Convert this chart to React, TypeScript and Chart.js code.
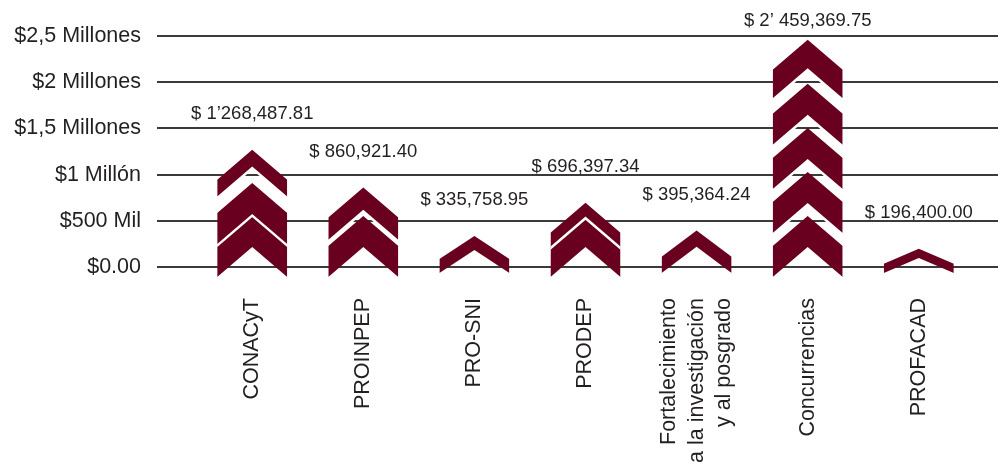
import { useEffect, useRef } from "react";
import { Chart, registerables } from "chart.js";

Chart.register(...registerables);

// ---- data ----
const categories: (string | string[])[] = [
  "CONACyT",
  "PROINPEP",
  "PRO-SNI",
  "PRODEP",
  ["Fortalecimiento", "a la investigación", "y al posgrado"],
  "Concurrencias",
  "PROFACAD",
];
const amounts = [1268487.81, 860921.4, 335758.95, 696397.34, 395364.24, 2459369.75, 196400.0];
const amountLabels = [
  "$ 1’268,487.81",
  "$ 860,921.40",
  "$ 335,758.95",
  "$ 696,397.34",
  "$ 395,364.24",
  "$ 2’ 459,369.75",
  "$ 196,400.00",
];
const yTickValues = [0, 500000, 1000000, 1500000, 2000000, 2500000];
const yTickLabels = ["$0.00", "$500 Mil", "$1 Millón", "$1,5 Millones", "$2 Millones", "$2,5 Millones"];
const CHEVRON_UNIT = 500000;

// ---- styles ----
const MAROON = "#6a0020";
const TEXT = "#231f20";
const FONT = '"Liberation Sans", Arial, Helvetica, sans-serif';
const CAT_FONT_SIZE = 21.5;
const CAT_LINE_HEIGHT = 1.28;

const chevronPlugin = {
  id: "chevrons",
  afterDatasetsDraw(chart: any) {
    const ctx = chart.ctx as CanvasRenderingContext2D;
    const meta = chart.getDatasetMeta(0);
    meta.data.forEach((el: any, i: number) => {
      const { x, y, base, width } = el.getProps(["x", "y", "base", "width"], true);
      const v = amounts[i];
      const n = Math.max(1, Math.ceil(v / CHEVRON_UNIT));
      const frac = v / CHEVRON_UNIT - (n - 1);
      const half = width / 2;
      const list: { apex: number; s: number; h: number }[] = [];
      if (n === 1) {
        const bottom = base + 7;
        const H = bottom - y;
        const s = Math.min(30, H * 0.62);
        list.push({ apex: y, s, h: H - s });
      } else {
        const bottom = base + 11;
        const S = 30;
        const HH = 31;
        const a0 = bottom - S - HH;
        const pitch = (a0 - y) / (n - 1);
        for (let k = 0; k < n; k++) {
          const apex = a0 - k * pitch;
          const h = k === n - 1 ? HH * Math.max(0.45, Math.min(1, frac)) : HH;
          list.push({ apex, s: S, h });
        }
      }
      const L = x - half;
      const R = x + half;
      ctx.save();
      ctx.beginPath();
      ctx.rect(L, 0, width, chart.height);
      ctx.clip();
      list.forEach((c, k) => {
        if (k > 0) {
          ctx.beginPath();
          ctx.moveTo(L - 4, c.apex + c.s + c.h + 4 * (c.s / half));
          ctx.lineTo(x, c.apex + c.h);
          ctx.lineTo(R + 4, c.apex + c.s + c.h + 4 * (c.s / half));
          ctx.strokeStyle = "#ffffff";
          ctx.lineWidth = 5;
          ctx.lineJoin = "miter";
          ctx.stroke();
        }
        ctx.beginPath();
        ctx.moveTo(x, c.apex);
        ctx.lineTo(R, c.apex + c.s);
        ctx.lineTo(R, c.apex + c.s + c.h);
        ctx.lineTo(x, c.apex + c.h);
        ctx.lineTo(L, c.apex + c.s + c.h);
        ctx.lineTo(L, c.apex + c.s);
        ctx.closePath();
        ctx.fillStyle = MAROON;
        ctx.fill();
      });
      ctx.restore();

      ctx.save();
      ctx.font = `18.5px ${FONT}`;
      ctx.fillStyle = TEXT;
      ctx.textAlign = "center";
      ctx.textBaseline = "middle";
      ctx.fillText(amountLabels[i], x, Math.max(21, y - 36));
      ctx.restore();
    });
  },
};

export default function App() {
  const ref = useRef<HTMLCanvasElement | null>(null);
  useEffect(() => {
    document.body.style.margin = "0";
    const canvas = ref.current;
    if (!canvas) return;
    const chart = new Chart(canvas, {
      type: "bar",
      data: {
        datasets: [
          {
            data: amounts.map((v, i) => ({ x: i, y: v })),
            backgroundColor: "rgba(0,0,0,0)",
            borderWidth: 0,
            barThickness: 70,
          },
        ],
      },
      options: {
        responsive: false,
        animation: false,
        devicePixelRatio: 1,
        layout: { padding: { top: 36, left: 0, right: 0, bottom: 0 } },
        plugins: { legend: { display: false }, tooltip: { enabled: false } },
        scales: {
          x: {
            type: "linear",
            offset: false,
            min: -0.857,
            max: 6.713,
            bounds: "data",
            grid: { display: false, drawTicks: false, offset: false },
            border: { display: false },
            afterBuildTicks: (scale: any) => {
              const unitPx = scale.width / (scale.max - scale.min) || 111;
              const linePx = CAT_FONT_SIZE * CAT_LINE_HEIGHT;
              scale.ticks = categories.map((lab, i) => {
                const lines = Array.isArray(lab) ? lab.length : 1;
                return { value: i - ((lines - 1) / 2) * (linePx / unitPx) };
              });
            },
            afterFit: (scale: any) => {
              scale.height = 197;
            },
            ticks: {
              autoSkip: false,
              minRotation: 90,
              maxRotation: 90,
              padding: 31,
              color: TEXT,
              font: { family: FONT, size: CAT_FONT_SIZE, lineHeight: CAT_LINE_HEIGHT },
              callback: (_v: any, index: number) => categories[index],
            },
          },
          y: {
            type: "linear",
            min: 0,
            max: 2500000,
            grid: { color: "#3a3a3a", lineWidth: 2, drawTicks: false },
            border: { display: false },
            afterFit: (scale: any) => {
              scale.width = 157;
            },
            ticks: {
              stepSize: 500000,
              padding: 16,
              color: TEXT,
              font: { family: FONT, size: 21.5 },
              callback: (v: any) => {
                const idx = yTickValues.indexOf(Number(v));
                return idx >= 0 ? yTickLabels[idx] : "";
              },
            },
          },
        },
      } as any,
      plugins: [chevronPlugin],
    });
    return () => chart.destroy();
  }, []);
  return <canvas ref={ref} width={998} height={464} style={{ display: "block" }} />;
}
